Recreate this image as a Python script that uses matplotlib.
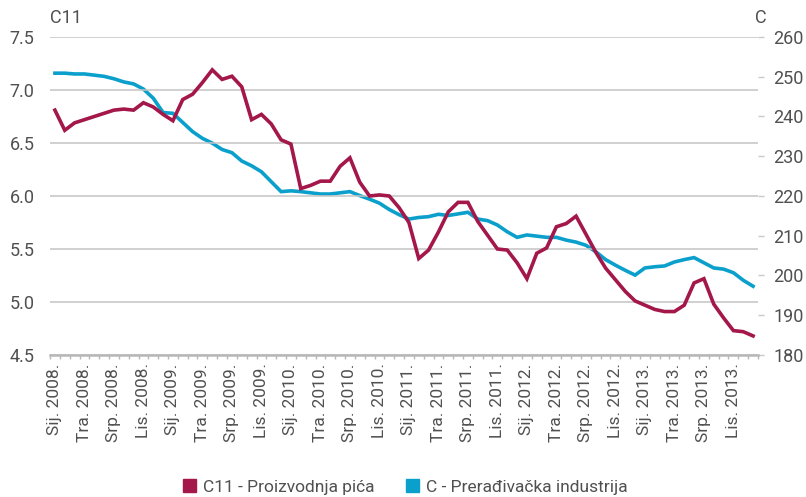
import matplotlib
matplotlib.use("Agg")
import matplotlib.pyplot as plt
from matplotlib.patches import Patch

# monthly series, Jan 2008 - Dec 2013
c11 = [6.81, 6.62, 6.69, 6.72, 6.75, 6.78, 6.81, 6.82, 6.81, 6.88, 6.84, 6.77,
       6.71, 6.91, 6.96, 7.07, 7.19, 7.10, 7.13, 7.03, 6.72, 6.77, 6.68, 6.53,
       6.49, 6.07, 6.10, 6.14, 6.14, 6.28, 6.36, 6.13, 6.00, 6.01, 6.00, 5.89,
       5.75, 5.41, 5.49, 5.66, 5.85, 5.94, 5.94, 5.76, 5.63, 5.50, 5.49, 5.37,
       5.22, 5.46, 5.51, 5.71, 5.74, 5.81, 5.64, 5.47, 5.32, 5.21, 5.10, 5.01,
       4.97, 4.93, 4.91, 4.91, 4.97, 5.18, 5.22, 4.98, 4.85, 4.73, 4.72, 4.68]
c_all = [250.9, 250.9, 250.7, 250.7, 250.4, 250.1, 249.5, 248.7, 248.2, 246.9, 244.6, 241.0,
         240.8, 238.5, 236.2, 234.5, 233.3, 231.7, 230.9, 228.8, 227.6, 226.1, 223.6, 221.1,
         221.3, 221.1, 220.8, 220.5, 220.5, 220.8, 221.1, 220.1, 219.2, 218.2, 216.6, 215.3,
         214.2, 214.6, 214.8, 215.4, 215.1, 215.5, 215.9, 214.2, 213.8, 212.7, 211.0, 209.6,
         210.2, 209.9, 209.6, 209.6, 208.9, 208.4, 207.6, 206.0, 204.0, 202.6, 201.3, 200.1,
         201.9, 202.2, 202.4, 203.4, 204.0, 204.5, 203.2, 201.9, 201.6, 200.7, 198.8, 197.3]
months = ["Sij.", "Tra.", "Srp.", "Lis."]
years = [2008, 2009, 2010, 2011, 2012, 2013]
tick_labels = [f"{m} {y}." for y in years for m in months]

RED = "#a3174a"
BLUE = "#0ba0cc"
TXT = "#505050"
GRID = "#c4c4c4"

plt.rcParams["font.family"] = ["Roboto", "DejaVu Sans"]

fig = plt.figure(figsize=(8.06, 4.97), dpi=100)
ax = fig.add_axes([50 / 806, 1 - 355 / 497, 708 / 806, 318 / 497])
ax2 = ax.twinx()

x = list(range(len(c11)))
ax.plot(x, c11, color=RED, lw=2.6, zorder=4, solid_joinstyle="miter")
ax2.plot(x, c_all, color=BLUE, lw=2.6, zorder=3, solid_joinstyle="miter")

ax.set_zorder(ax2.get_zorder() + 1)
ax.patch.set_visible(False)

ax.set_xlim(-0.5, 71.5)
ax.set_ylim(4.5, 7.5)
ax2.set_ylim(180, 260)
ax.set_yticks([4.5, 5.0, 5.5, 6.0, 6.5, 7.0, 7.5])
ax.set_yticklabels(["4.5", "5.0", "5.5", "6.0", "6.5", "7.0", "7.5"])
ax2.set_yticks(range(180, 261, 10))

ax.grid(axis="y", color=GRID, lw=1.1)
ax.set_axisbelow(True)
for s in ("top", "left", "right"):
    ax.spines[s].set_visible(False)
for s in ax2.spines.values():
    s.set_visible(False)
ax.spines["bottom"].set_color("#b8b8b8")
ax.spines["bottom"].set_linewidth(1.8)

ax.set_xticks(range(0, 72, 3))
ax.set_xticklabels(tick_labels, rotation=90)
ax.set_xticks([i - 0.5 for i in range(73)], minor=True)
ax.tick_params(axis="x", which="major", length=0, pad=6, labelsize=12.5, labelcolor=TXT)
ax.tick_params(axis="x", which="minor", length=3, width=1, color="#b8b8b8")
ax.tick_params(axis="y", length=0, pad=11, labelsize=13, labelcolor=TXT)
ax2.tick_params(axis="y", length=4, width=1, color="#c8c8c8", pad=7,
                labelsize=13, labelcolor=TXT)

fig.text(50 / 806, 1 - 18 / 497, "C11", fontsize=13, color=TXT, va="center", ha="left")
fig.text(761 / 806, 1 - 18 / 497, "C", fontsize=13, color=TXT, va="center", ha="center")

handles = [Patch(color=RED, label="C11 - Proizvodnja pića"),
           Patch(color=BLUE, label="C - Prerađivačka industrija")]
fig.legend(handles=handles, loc="center", bbox_to_anchor=(0.503, 1 - 487 / 497), ncol=2,
           frameon=False, fontsize=12.5, handlelength=0.75, handleheight=0.75,
           handletextpad=0.4, columnspacing=1.8, labelcolor=TXT)

fig.savefig("out.png", dpi=100)
